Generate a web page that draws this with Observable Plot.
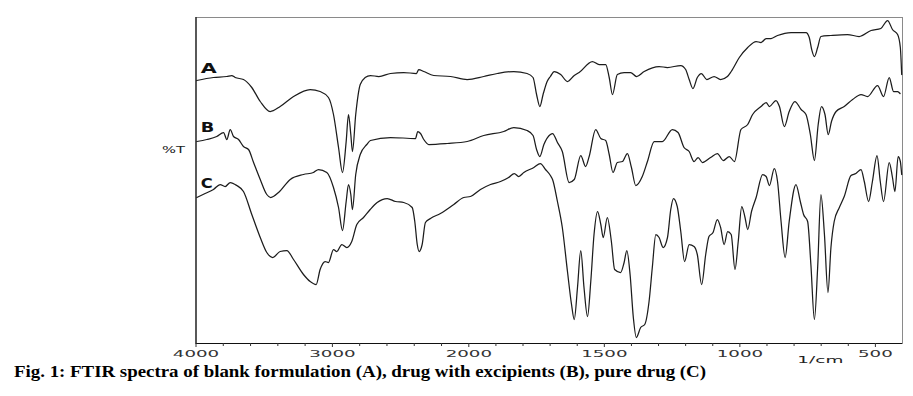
<!DOCTYPE html>
<html><head><meta charset="utf-8">
<script src="https://cdn.jsdelivr.net/npm/d3@7"></script>
<script src="https://cdn.jsdelivr.net/npm/@observablehq/plot@0.6"></script>
<style>
body{margin:0;background:#fff;}
#chart svg{display:block;}
#cap{font-family:"Liberation Serif","Times New Roman",serif;font-weight:bold;font-size:17px;line-height:20px;padding-left:14px;white-space:nowrap;color:#000;}
#cap span{display:inline-block;transform-origin:0 0;}
</style></head><body>
<div id="chart"></div>
<div id="cap"><span>Fig. 1: FTIR spectra of blank formulation (A), drug with excipients (B), pure drug (C)</span></div>
<script>
// wavenumbers (1/cm) and relative transmittance (arbitrary %T units)
const wnA = [3995,3872,3774,3738,3713,3652,3591,3529,3456,3383,3285,3163,3090,3029,2992,2955,2926,2899,2882,2865,2853,2829,2796,2760,2721,2660,2574,2477,2384,2367,2330,2257,2134,2012,1945,1895,1834,1785,1763,1750,1738,1726,1711,1699,1685,1661,1636,1611,1593,1544,1519,1495,1482,1470,1452,1427,1403,1381,1353,1298,1267,1218,1200,1187,1173,1157,1142,1122,1095,1071,1046,1032,1002,971,940,922,903,885,861,811,756,744,735,725,713,701,664,603,560,516,480,455,437,418,408,403];
const tA = [263,266,267,268,266,264,256,242,232,237,247,254,252,246,229,196,171,202,229,209,192,229,259,266,268,267,270,271,270,274,272,268,267,264,267,270,272,270,266,249,237,249,262,267,272,269,262,268,271,282,279,279,266,249,269,271,271,267,272,277,276,278,274,264,255,266,270,264,267,264,267,272,286,296,302,301,305,305,308,311,311,306,294,287,296,307,308,309,307,313,315,323,314,309,296,269];

const wnB = [3994,3921,3848,3798,3774,3749,3725,3688,3652,3615,3578,3529,3481,3452,3395,3309,3212,3139,3102,3041,2992,2955,2926,2899,2882,2865,2853,2829,2796,2748,2721,2574,2391,2374,2354,2330,2293,2158,2012,1945,1871,1834,1785,1763,1750,1738,1723,1699,1691,1673,1655,1630,1611,1587,1569,1556,1532,1513,1495,1482,1468,1452,1433,1415,1400,1384,1360,1341,1316,1286,1249,1228,1206,1187,1169,1154,1138,1108,1083,1061,1039,1020,996,971,953,922,903,891,867,854,836,818,797,774,756,740,725,711,699,686,674,662,645,615,584,553,529,492,470,449,433,418,409];
const tB = [202,204,207,211,204,214,207,204,197,194,181,164,149,146,151,164,169,171,174,171,156,136,113,142,159,149,134,169,189,199,203,206,205,212,210,204,199,200,202,208,212,216,213,208,194,187,199,209,210,201,192,161,164,188,177,187,214,205,203,189,171,181,182,190,176,158,167,182,202,202,214,211,196,192,182,186,181,186,190,183,187,182,214,219,229,237,241,237,243,237,217,232,242,234,229,209,183,219,237,229,209,222,232,237,244,249,247,258,247,266,252,252,250];

const wnC = [3994,3933,3872,3823,3786,3749,3701,3652,3591,3529,3481,3437,3383,3334,3285,3212,3163,3119,3090,3053,3029,2992,2968,2931,2894,2858,2821,2772,2723,2672,2598,2537,2477,2415,2396,2378,2364,2342,2318,2281,2208,2110,2037,1994,1957,1920,1883,1853,1832,1816,1797,1760,1736,1717,1699,1691,1673,1655,1636,1621,1611,1599,1587,1575,1562,1550,1538,1525,1513,1504,1489,1474,1462,1440,1427,1417,1405,1393,1382,1366,1351,1335,1323,1310,1298,1283,1267,1255,1245,1231,1218,1204,1187,1169,1157,1141,1126,1114,1099,1083,1071,1058,1045,1032,1018,1006,993,981,971,957,940,916,903,891,873,861,848,833,818,793,777,765,750,738,725,713,701,688,675,664,652,633,615,590,572,553,541,525,511,494,482,470,449,437,428,416,408,403];
const tC = [146,150,154,159,157,161,158,152,129,106,91,86,92,93,84,69,62,59,74,82,81,94,92,99,96,102,119,126,134,141,145,142,141,136,122,99,92,99,121,125,130,139,146,147,154,159,162,166,170,167,171,176,180,174,168,164,142,116,72,39,24,56,93,56,27,62,109,132,119,106,126,102,74,71,81,93,69,26,6,16,19,42,76,109,106,96,106,134,145,137,112,82,99,97,89,59,89,107,111,124,116,99,112,109,74,102,137,126,114,132,146,169,167,158,175,162,122,86,122,159,142,129,122,79,24,76,149,109,51,96,122,136,147,168,170,174,162,142,162,188,162,142,181,166,152,187,182,169];

const seriesNames = ["A", "B", "C"];
const majorTicks = [4000, 3000, 2000, 1500, 1000, 500];
const minorTicks = [3800, 3600, 3400, 3200, 2800, 2600, 2400, 2200, 1900, 1800, 1700, 1600, 1400, 1300, 1200, 1100, 900, 800, 700, 600];
const xUnit = "1/cm";
const yLabel = "%T";

const rows = [];
[[seriesNames[0], wnA, tA], [seriesNames[1], wnB, tB], [seriesNames[2], wnC, tC]].forEach(([s, w, t]) =>
  w.forEach((v, i) => rows.push({series: s, wn: v, t: t[i]})));

const seriesLabelY = {A: 275, B: 216, C: 160};
const labelRows = seriesNames.map(s => ({name: s, wn: 3966, t: seriesLabelY[s]}));

const W = 913, H = 362, mL = 195.5, mR = 11, mT = 17, mB = 19;

const plot = Plot.plot({
  width: W, height: H,
  marginLeft: mL, marginRight: mR, marginTop: mT, marginBottom: mB,
  style: {background: "#fff", overflow: "visible"},
  x: {type: "linear", domain: [4000, 2000, 400], range: [mL, 468.3, W - mR], label: null},
  y: {domain: [0, 326], range: [H - mB, mT], axis: null, label: null},
  marks: [
    Plot.frame({stroke: "#8a8a8a", strokeWidth: 1}),
    Plot.ruleX([4000], {stroke: "#111", strokeWidth: 1.2}),
    Plot.ruleY([0], {stroke: "#111", strokeWidth: 1.2}),
    Plot.axisX({ticks: minorTicks, tickSize: 3, text: null, stroke: "#333", label: null}),
    Plot.axisX({ticks: majorTicks, tickSize: 4, tickPadding: 3, tickFormat: d => String(d),
      fontSize: 9, fontFamily: "DejaVu Sans", fill: "#333", stroke: "#333", label: null}),
    Plot.line(rows, {x: "wn", y: "t", z: "series", stroke: "#1c1c1c", strokeWidth: 1.25, curve: "monotone-x"}),
    Plot.text(labelRows, {x: "wn", y: "t", text: "name", textAnchor: "start", lineAnchor: "middle",
      fontSize: 14, fontWeight: "bold", fontFamily: "DejaVu Sans", fill: "#111", className: "series-label"}),
    Plot.text([yLabel], {x: 4165, y: 193, text: d => d, textAnchor: "middle", lineAnchor: "middle",
      fontSize: 8.5, fontFamily: "DejaVu Sans", fill: "#222", className: "y-unit"}),
    Plot.text([xUnit], {x: 703, y: -17, text: d => d, textAnchor: "middle", lineAnchor: "middle",
      fontSize: 9, fontFamily: "DejaVu Sans", fill: "#222", className: "x-unit"})
  ]
});
document.getElementById("chart").appendChild(plot);

function stretch(sel, widthFn) {
  plot.querySelectorAll(sel).forEach((t, i) => {
    t.setAttribute("textLength", widthFn(t, i));
    t.setAttribute("lengthAdjust", "spacingAndGlyphs");
  });
}
stretch('[aria-label="x-axis tick label"] text', t => t.textContent.length * 11.6);
const letterW = [16, 13.5, 12];
stretch('.series-label text, text.series-label', (t, i) => letterW[i]);
stretch('.y-unit text, text.y-unit', () => 23);
stretch('.x-unit text, text.x-unit', () => 46);

const span = document.querySelector("#cap span");
const w = span.getBoundingClientRect().width;
span.style.transform = `scaleX(${692 / w})`;
</script>
</body></html>
